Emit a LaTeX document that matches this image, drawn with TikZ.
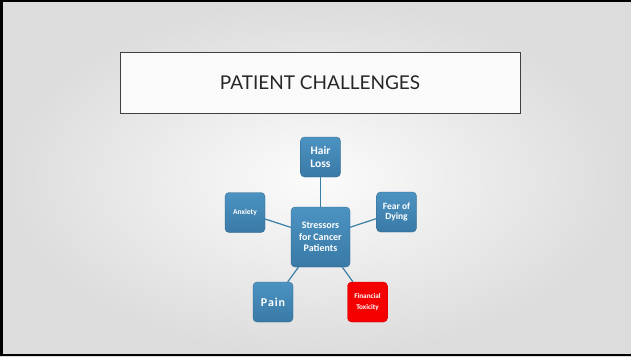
\documentclass[tikz,border=0pt]{standalone}
\usepackage{fontspec}
\setmainfont{Carlito}
\newfontfamily\titlefont{Lato}
\usetikzlibrary{positioning}
\definecolor{boxTop}{HTML}{4C93C2}
\definecolor{boxBot}{HTML}{3979A6}
\definecolor{linkCol}{HTML}{3C7DA8}
\definecolor{alertCol}{HTML}{F50000}
\definecolor{slideEdge}{HTML}{DCDCDC}
\tikzset{
  stressbox/.style={rounded corners=4pt, minimum width=40pt, minimum height=40pt,
               top color=boxTop, bottom color=boxBot, draw=boxBot!80!black, line width=0.3pt,
               text=white, font=\bfseries, align=center, inner sep=1pt},
  alertbox/.style={stressbox, top color=alertCol, bottom color=alertCol, draw=red!80!black},
  link/.style={draw=linkCol, line width=1.2pt},
  titlebox/.style={draw=black!75, line width=1pt, fill=white!96!gray, minimum width=400pt,
                   minimum height=61pt, font=\titlefont\fontsize{19}{22}\selectfont, text=black!85},
}
\begin{document}
\begin{tikzpicture}[x=1pt,y=-1pt]
  \useasboundingbox (0,0) rectangle (631,356);
  % slide background and frame
  \shade[inner color=white!97!gray, outer color=slideEdge] (0,0) rectangle (631,356);
  \draw[line width=2.5pt, black] (1.5,356) -- (1.5,1) -- (631,1);
  \draw[line width=2pt, black] (0,355) -- (631,355);

  \node[titlebox] (title) at (320,82.5) {PATIENT CHALLENGES};

  \node[stressbox, minimum width=59pt, minimum height=60pt, font=\bfseries\fontsize{10}{11.5}\selectfont]
       (core) at (320.5,237) {Stressors\\for Cancer\\Patients};
  \node[stressbox, font=\bfseries\fontsize{11.5}{13}\selectfont] (hair) at (320.5,157) {Hair\\Loss};
  \node[stressbox, font=\bfseries\fontsize{9.5}{10.5}\selectfont] (fear) at (396.5,212) {Fear of\\Dying};
  \node[stressbox, font=\bfseries\fontsize{7.5}{8.5}\selectfont] (anx) at (245,212.5) {Anxiety};
  \node[stressbox, font=\bfseries\fontsize{12}{14}\selectfont] (pain) at (273,302) {P\kern0.8pt a\kern0.8pt i\kern0.8pt n};
  \node[alertbox, font=\bfseries\fontsize{7.2}{10.5}\selectfont] (money) at (367.5,302) {Financial\\Toxicity};

  \foreach \s in {hair,fear,anx,pain,money}{\draw[link] (core) -- (\s);}
\end{tikzpicture}
\end{document}
